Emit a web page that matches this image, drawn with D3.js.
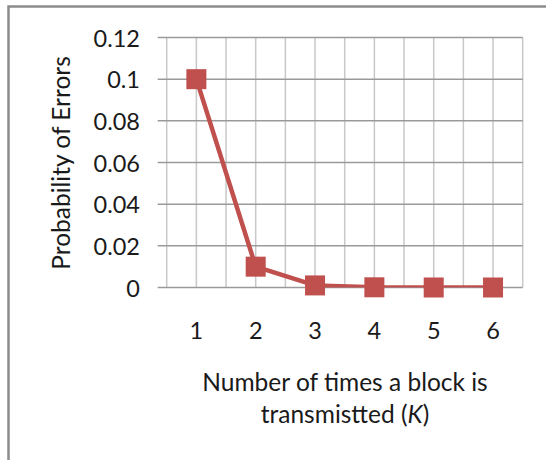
<!DOCTYPE html>
<html>
<head>
<meta charset="utf-8">
<script src="https://cdn.jsdelivr.net/npm/d3@7"></script>
<style>
  body { margin: 0; background: #fff; }
  svg { display: block; font-family: Lato, "Open Sans", sans-serif; }
</style>
</head>
<body>
<div id="chart"></div>
<script>
// chart data
var categories = ['1', '2', '3', '4', '5', '6'];
var errorProb = [0.1, 0.01, 0.001, 0.0001, 0.00001, 0.000001];
var yTicks = [0, 0.02, 0.04, 0.06, 0.08, 0.1, 0.12];
var yTickLabels = ['0', '0.02', '0.04', '0.06', '0.08', '0.1', '0.12'];

var W = 546, H = 460;
var plot = { left: 166.7, right: 522.7, top: 37.5, bottom: 287.5 };

var svg = d3.select('#chart').append('svg')
  .attr('width', W)
  .attr('height', H);

// outer frame (only top and left edges are inside the picture)
svg.append('path')
  .attr('d', 'M8.5,' + H + ' L8.5,6.5 L' + W + ',6.5')
  .style('fill', 'none')
  .style('stroke', '#8c8c8c')
  .style('stroke-width', 2.5);

var x = d3.scaleBand()
  .domain(categories)
  .range([plot.left, plot.right]);

var y = d3.scaleLinear()
  .domain([0, 0.12])
  .range([plot.bottom, plot.top]);

var grid = svg.append('g');

// vertical gridlines: between categories and at each category
var vLines = [];
categories.forEach(function (c, i) {
  vLines.push(x(c));
  vLines.push(x(c) + x.bandwidth() / 2);
  if (i === categories.length - 1) vLines.push(x(c) + x.bandwidth());
});
grid.selectAll('line.v').data(vLines).enter().append('line')
  .attr('class', 'v')
  .attr('x1', function (d) { return d; })
  .attr('x2', function (d) { return d; })
  .attr('y1', plot.top)
  .attr('y2', plot.bottom)
  .style('stroke', '#c8c8c8')
  .style('stroke-width', 1.5);

// horizontal gridlines (extend left as tick marks)
grid.selectAll('line.h').data(yTicks).enter().append('line')
  .attr('class', 'h')
  .attr('x1', plot.left - 9)
  .attr('x2', plot.right)
  .attr('y1', function (d) { return y(d); })
  .attr('y2', function (d) { return y(d); })
  .style('stroke', '#9a9a9a')
  .style('stroke-width', 1.5);

// y tick labels
svg.append('g').selectAll('text').data(yTicks).enter().append('text')
  .attr('x', 140)
  .attr('y', function (d) { return y(d); })
  .attr('text-anchor', 'end')
  .attr('dominant-baseline', 'central')
  .style('font-size', '23.5px')
  .style('fill', '#1a1a1a')
  .text(function (d, i) { return yTickLabels[i]; });

// x tick labels
svg.append('g').selectAll('text').data(categories).enter().append('text')
  .attr('x', function (d) { return x(d) + x.bandwidth() / 2; })
  .attr('y', 330)
  .attr('text-anchor', 'middle')
  .attr('dominant-baseline', 'central')
  .style('font-size', '23.5px')
  .style('fill', '#1a1a1a')
  .text(function (d) { return d; });

// axis titles
svg.append('text')
  .attr('transform', 'translate(60,163) rotate(-90)')
  .attr('text-anchor', 'middle')
  .attr('dominant-baseline', 'central')
  .style('font-size', '24.5px')
  .style('fill', '#1a1a1a')
  .text('Probability of Errors');

var xt = svg.append('text')
  .attr('text-anchor', 'middle')
  .style('font-size', '24.5px')
  .style('fill', '#1a1a1a');
xt.append('tspan')
  .attr('x', 345)
  .attr('y', 391)
  .text('Number of times a block is');
var l2 = xt.append('tspan')
  .attr('x', 345)
  .attr('y', 423);
l2.append('tspan').text('transmistted (');
l2.append('tspan').style('font-style', 'italic').text('K');
l2.append('tspan').text(')');

// series
svg.append('clipPath')
  .attr('id', 'plotClip')
  .append('rect')
  .attr('x', plot.left)
  .attr('y', plot.top)
  .attr('width', plot.right - plot.left)
  .attr('height', plot.bottom - plot.top);

var pts = categories.map(function (c, i) {
  return { x: x(c) + x.bandwidth() / 2, y: y(errorProb[i]) };
});

svg.append('path')
  .datum(pts)
  .attr('clip-path', 'url(#plotClip)')
  .attr('d', d3.line().x(function (d) { return d.x; }).y(function (d) { return d.y; }))
  .style('fill', 'none')
  .style('stroke', '#c0504d')
  .style('stroke-width', 4.5)
  .style('stroke-linejoin', 'round');

svg.append('g').selectAll('rect').data(pts).enter().append('rect')
  .attr('x', function (d) { return d.x - 10; })
  .attr('y', function (d) { return d.y - 10; })
  .attr('width', 20)
  .attr('height', 20)
  .style('fill', '#c0504d');
</script>
</body>
</html>
